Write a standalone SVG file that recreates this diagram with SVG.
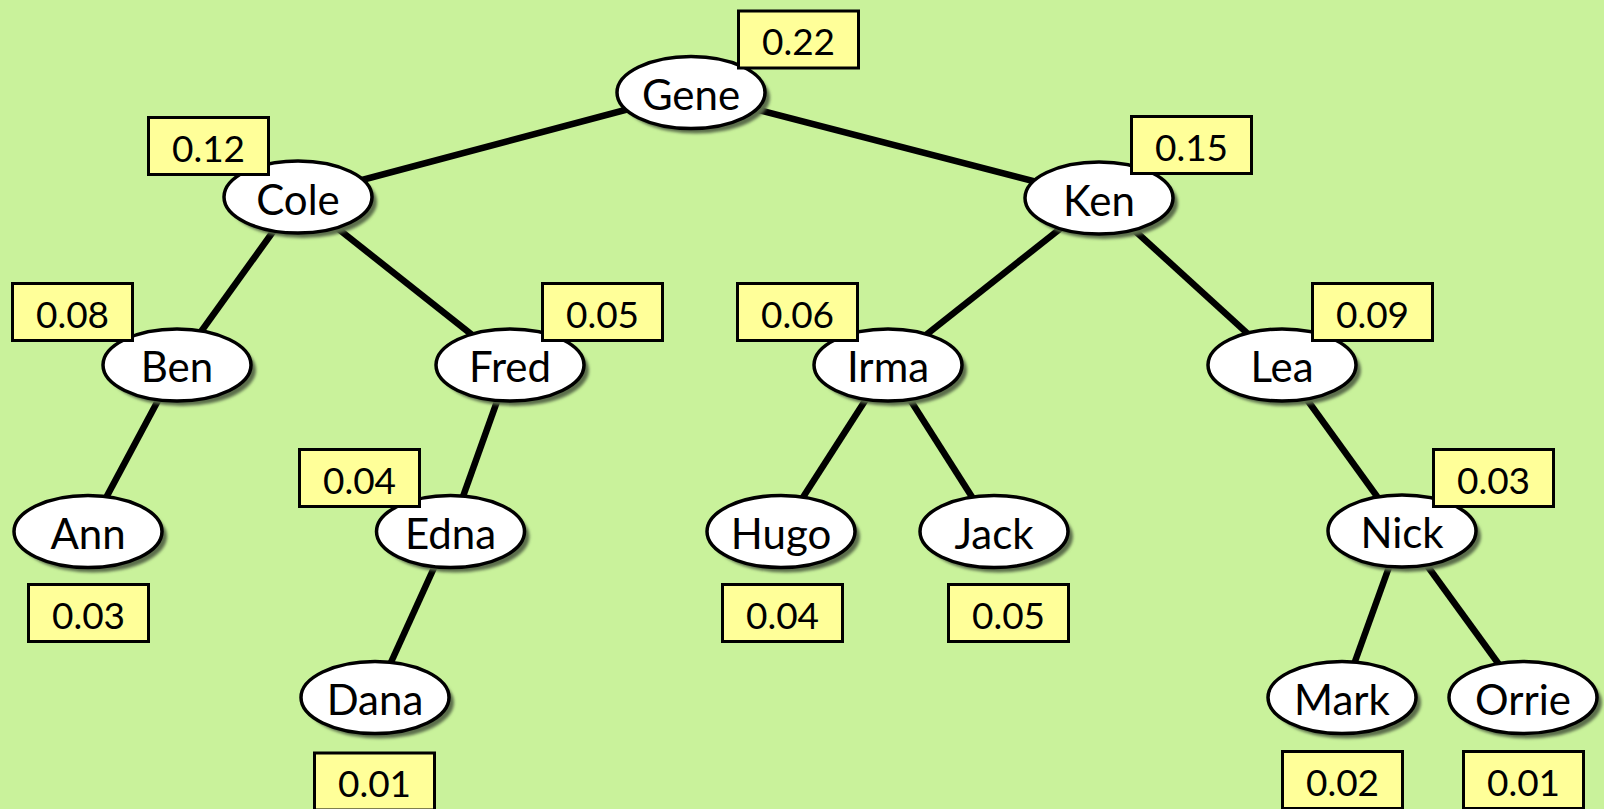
<svg xmlns="http://www.w3.org/2000/svg" width="1604" height="809" viewBox="0 0 1604 809">
<defs>
<filter id="blur" x="-20%" y="-20%" width="140%" height="140%"><feGaussianBlur stdDeviation="1.5"/></filter>
</defs>
<style>
.edge{stroke:#000;stroke-width:6.5;fill:none}
.sh{fill:#5c6e4c;filter:url(#blur)}
.el{fill:#fff;stroke:#000;stroke-width:3.5}
.nm{font-family:Lato,"Liberation Sans",sans-serif;font-size:42px;text-anchor:middle;fill:#000}
.bx{fill:#ffff99;stroke:#000;stroke-width:3}
.pr{font-family:Lato,"Liberation Sans",sans-serif;font-size:37px;text-anchor:middle;fill:#000}
</style>
<rect width="1604" height="809" fill="#c9f29b"/>
<g id="connectors">
<line class="edge" x1="691" y1="92.5" x2="298" y2="197"/>
<line class="edge" x1="691" y1="92.5" x2="1099" y2="198"/>
<line class="edge" x1="298" y1="197" x2="177" y2="365"/>
<line class="edge" x1="298" y1="197" x2="510" y2="365"/>
<line class="edge" x1="177" y1="365" x2="88" y2="531.5"/>
<line class="edge" x1="510" y1="365" x2="450.5" y2="531.5"/>
<line class="edge" x1="450.5" y1="531.5" x2="375" y2="697.5"/>
<line class="edge" x1="1099" y1="198" x2="888" y2="365"/>
<line class="edge" x1="1099" y1="198" x2="1282" y2="365"/>
<line class="edge" x1="888" y1="365" x2="781" y2="531.5"/>
<line class="edge" x1="888" y1="365" x2="994" y2="531.5"/>
<line class="edge" x1="1282" y1="365" x2="1402" y2="531"/>
<line class="edge" x1="1402" y1="531" x2="1342" y2="697.5"/>
<line class="edge" x1="1402" y1="531" x2="1523" y2="697.5"/>
</g>
<g id="gene"><ellipse class="sh" cx="696" cy="97.5" rx="74" ry="36"/><ellipse class="el" cx="691" cy="92.5" rx="74" ry="36"/><text class="nm" x="691" y="110">Gene</text><rect class="bx" x="738.5" y="11" width="120" height="57"/><text class="pr" x="798.5" y="55">0.22</text></g>
<g id="cole"><ellipse class="sh" cx="303" cy="202" rx="74" ry="36"/><ellipse class="el" cx="298" cy="197" rx="74" ry="36"/><text class="nm" x="298" y="214.5">Cole</text><rect class="bx" x="148.5" y="117.5" width="120" height="57"/><text class="pr" x="208.5" y="161.5">0.12</text></g>
<g id="ken"><ellipse class="sh" cx="1104" cy="203" rx="74" ry="36"/><ellipse class="el" cx="1099" cy="198" rx="74" ry="36"/><text class="nm" x="1099" y="215.5">Ken</text><rect class="bx" x="1131.5" y="116.5" width="120" height="57"/><text class="pr" x="1191.5" y="160.5">0.15</text></g>
<g id="ben"><ellipse class="sh" cx="182" cy="370" rx="74" ry="36"/><ellipse class="el" cx="177" cy="365" rx="74" ry="36"/><text class="nm" x="177" y="382">Ben</text><rect class="bx" x="12.5" y="283.5" width="120" height="57"/><text class="pr" x="72.5" y="327.5">0.08</text></g>
<g id="fred"><ellipse class="sh" cx="515" cy="370" rx="74" ry="36"/><ellipse class="el" cx="510" cy="365" rx="74" ry="36"/><text class="nm" x="510" y="382">Fred</text><rect class="bx" x="542.5" y="283.5" width="120" height="57"/><text class="pr" x="602.5" y="327.5">0.05</text></g>
<g id="irma"><ellipse class="sh" cx="893" cy="370" rx="74" ry="36"/><ellipse class="el" cx="888" cy="365" rx="74" ry="36"/><text class="nm" x="888" y="382">Irma</text><rect class="bx" x="737.5" y="283.5" width="120" height="57"/><text class="pr" x="797.5" y="327.5">0.06</text></g>
<g id="lea"><ellipse class="sh" cx="1287" cy="370" rx="74" ry="36"/><ellipse class="el" cx="1282" cy="365" rx="74" ry="36"/><text class="nm" x="1282" y="382">Lea</text><rect class="bx" x="1312.5" y="283.5" width="120" height="57"/><text class="pr" x="1372.5" y="327.5">0.09</text></g>
<g id="ann"><ellipse class="sh" cx="93" cy="536.5" rx="74" ry="36"/><ellipse class="el" cx="88" cy="531.5" rx="74" ry="36"/><text class="nm" x="88" y="548.5">Ann</text><rect class="bx" x="28.5" y="584.5" width="120" height="57"/><text class="pr" x="88.5" y="628.5">0.03</text></g>
<g id="edna"><ellipse class="sh" cx="455.5" cy="536.5" rx="74" ry="36"/><ellipse class="el" cx="450.5" cy="531.5" rx="74" ry="36"/><text class="nm" x="450.5" y="548.5">Edna</text><rect class="bx" x="299.5" y="449.5" width="120" height="57"/><text class="pr" x="359.5" y="493.5">0.04</text></g>
<g id="hugo"><ellipse class="sh" cx="786" cy="536.5" rx="74" ry="36"/><ellipse class="el" cx="781" cy="531.5" rx="74" ry="36"/><text class="nm" x="781" y="548.5">Hugo</text><rect class="bx" x="722.5" y="584.5" width="120" height="57"/><text class="pr" x="782.5" y="628.5">0.04</text></g>
<g id="jack"><ellipse class="sh" cx="999" cy="536.5" rx="74" ry="36"/><ellipse class="el" cx="994" cy="531.5" rx="74" ry="36"/><text class="nm" x="994" y="548.5">Jack</text><rect class="bx" x="948.5" y="584.5" width="120" height="57"/><text class="pr" x="1008.5" y="628.5">0.05</text></g>
<g id="nick"><ellipse class="sh" cx="1407" cy="536" rx="74" ry="36"/><ellipse class="el" cx="1402" cy="531" rx="74" ry="36"/><text class="nm" x="1402" y="548">Nick</text><rect class="bx" x="1433.5" y="449.5" width="120" height="57"/><text class="pr" x="1493.5" y="493.5">0.03</text></g>
<g id="dana"><ellipse class="sh" cx="380" cy="702.5" rx="74" ry="36"/><ellipse class="el" cx="375" cy="697.5" rx="74" ry="36"/><text class="nm" x="375" y="714.5">Dana</text><rect class="bx" x="314.5" y="753" width="120" height="57"/><text class="pr" x="374.5" y="797">0.01</text></g>
<g id="mark"><ellipse class="sh" cx="1347" cy="702.5" rx="74" ry="36"/><ellipse class="el" cx="1342" cy="697.5" rx="74" ry="36"/><text class="nm" x="1342" y="714.5">Mark</text><rect class="bx" x="1282.5" y="751.5" width="120" height="57"/><text class="pr" x="1342.5" y="795.5">0.02</text></g>
<g id="orrie"><ellipse class="sh" cx="1528" cy="702.5" rx="74" ry="36"/><ellipse class="el" cx="1523" cy="697.5" rx="74" ry="36"/><text class="nm" x="1523" y="714.5">Orrie</text><rect class="bx" x="1463.5" y="751.5" width="120" height="57"/><text class="pr" x="1523.5" y="795.5">0.01</text></g>
</svg>
